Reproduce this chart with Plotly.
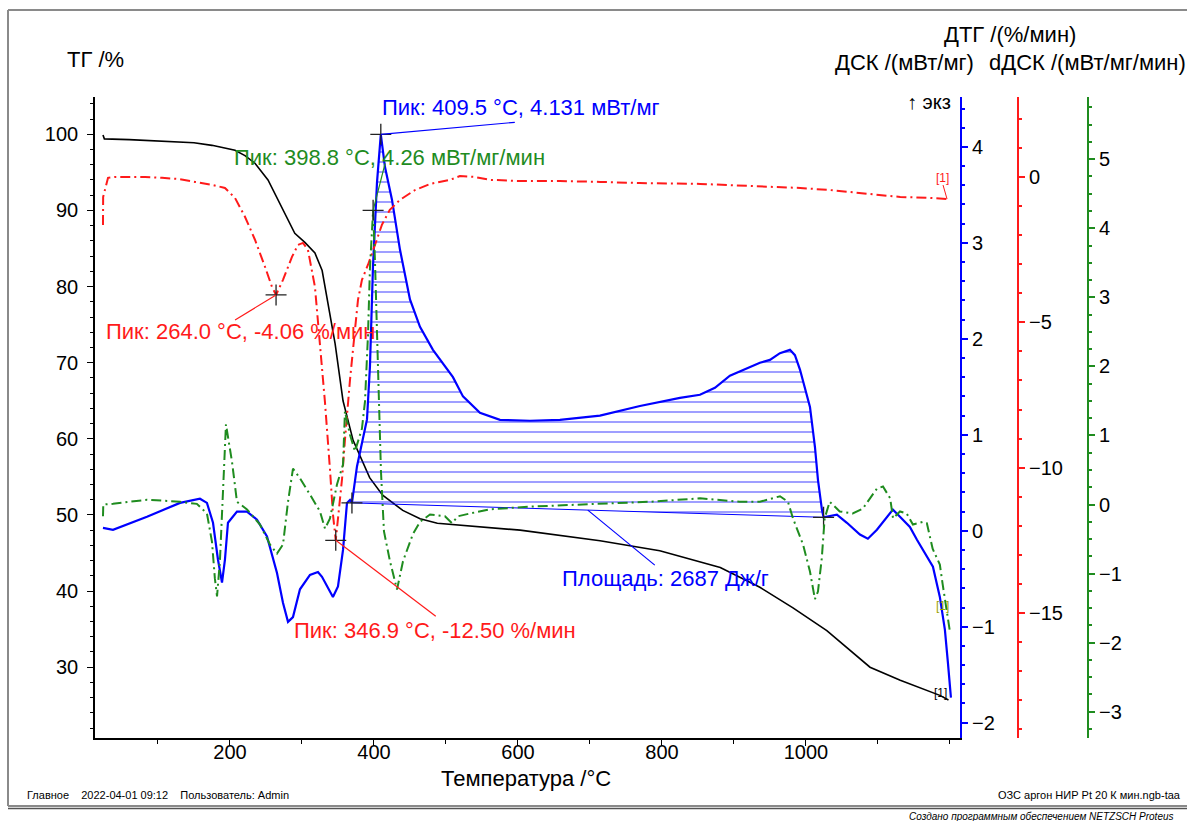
import plotly.graph_objects as go
import numpy as np

# ---------------- data ----------------
tg_T = [23.6, 25.5, 60, 105.6, 150, 175, 207, 220.8, 234.7, 252.8, 272, 290, 304, 318, 328, 336, 346,
        357, 371, 394, 412, 440, 464, 488, 547, 603, 714, 797, 881, 936, 982, 1029, 1089, 1131, 1186, 1198]
tg_val = [99.9, 99.4, 99.3, 99.1, 98.9, 98.55, 97.9, 97.2, 96.2, 94.0, 90.4, 87.0, 85.8, 84.4, 82.1, 77.8, 72.5,
          65.0, 59.8, 54.9, 52.6, 50.6, 49.5, 48.9, 48.4, 48.0, 46.6, 45.3, 43.1, 40.5, 37.8, 34.8, 30.0, 28.3, 26.3, 25.7]

dsc_T = [23.6, 37.5, 84.7, 130.6, 158.3, 168, 176.4, 183.3, 188.9, 193, 197.2, 209.7, 223.6, 237.5, 251.4,
         265.3, 273.6, 280.6, 287.5, 297.2, 311.1, 322.2, 327.8, 334.7, 343, 350, 357, 362.5, 366.7, 369.4,
         376.4, 390.3, 394.4, 398.6, 404.2, 409.5, 415.3, 425, 436.1, 450, 463.9, 481.9, 509.7, 523.6, 547.2,
         575, 616.7, 658.3, 713.9, 769.4, 825, 852.8, 873.6, 894.4, 936.1, 950, 963.9, 977.8, 984.7, 991.7,
         1005.6, 1012.5, 1016.7, 1022.2, 1024.5, 1043, 1056.9, 1075, 1086, 1098.6, 1112.5, 1120.8, 1130.6,
         1144.4, 1154.2, 1176.4, 1186, 1193, 1197.2, 1201.4]
dsc_val = [0.03, 0.01, 0.146, 0.29, 0.333, 0.29, 0.083, -0.30, -0.54, -0.30, 0.083, 0.20, 0.20, 0.115, -0.06,
           -0.44, -0.75, -0.95, -0.90, -0.61, -0.46, -0.43, -0.48, -0.58, -0.69, -0.58, -0.20, 0.29, 0.32, 0.29,
           0.67, 1.16, 1.71, 2.75, 3.63, 4.131, 3.79, 3.45, 2.93, 2.41, 2.125, 1.885, 1.60, 1.40, 1.23,
           1.156, 1.146, 1.156, 1.20, 1.30, 1.385, 1.417, 1.49, 1.615, 1.75, 1.78, 1.85, 1.885, 1.83, 1.68,
           1.29, 0.875, 0.53, 0.22, 0.14, 0.167, 0.083, -0.04, -0.083, 0.01, 0.146, 0.22, 0.146,
           0.04, -0.094, -0.375, -0.69, -1.03, -1.375, -1.74]

dtg_T = [23.6, 23.8, 30.6, 40.3, 58.3, 82, 105.6, 127.8, 151.4, 175, 193, 206.9, 220.8, 234.7, 248.6, 258.3,
         264.0, 273.6, 286.1, 294.4, 301.4, 308.3, 318, 325, 332, 338.9, 343, 346.9, 350, 355.6, 359.7, 366.7,
         373.6, 377.8, 383.3, 391.7, 401.4, 411, 422, 436, 457, 478, 505.6, 519.4, 540, 561, 603, 658, 714,
         769, 853, 936, 992, 1033, 1072, 1096, 1131, 1172, 1196]
dtg_val = [-1.65, -0.69, -0.03, 0.0, 0.0, 0.0, -0.03, -0.07, -0.17, -0.27, -0.38, -0.72, -1.37, -2.16, -3.09, -3.78,
           -4.06, -3.54, -2.75, -2.34, -2.27, -2.51, -3.78, -5.70, -7.77, -10.07, -11.6, -12.50, -11.8, -10.4, -9.04, -6.98,
           -5.26, -4.23, -3.54, -3.02, -2.34, -1.65, -1.13, -0.79, -0.45, -0.24, -0.10, 0.03, 0.0, -0.10, -0.14, -0.14, -0.17,
           -0.21, -0.24, -0.31, -0.38, -0.45, -0.55, -0.62, -0.69, -0.72, -0.76]

ddsc_T = [23.6, 24.0, 37.5, 84.7, 130.6, 154, 168, 175, 179, 182, 186, 190, 194.4, 202.8, 209.7, 223.6, 241.7,
          255.6, 265.3, 273.6, 280.6, 287.5, 297.2, 311.1, 325, 332, 338.9, 348.6, 357, 359.7, 366.7, 373.6,
          377.8, 383.3, 387.5, 391.7, 394.4, 398.8, 401.4, 404.2, 407, 409.7, 413.9, 422.2, 432, 440.3, 454,
          463.9, 477.8, 498.6, 508.3, 516.7, 533.3, 561, 616.7, 714, 783, 853, 908, 936, 964, 975, 982, 996,
          1005.6, 1012.5, 1016.7, 1022, 1026, 1033, 1047, 1065, 1079, 1089, 1098.6, 1107, 1117, 1121, 1130.6,
          1140, 1148.6, 1162.5, 1168, 1176, 1186, 1190, 1196, 1200]
ddsc_val = [-0.17, 0.0, 0.01, 0.07, 0.04, 0.01, -0.13, -0.54, -1.07, -1.33, -0.82, 0.04, 1.16, 0.62, 0.04, -0.07, -0.29,
            -0.58, -0.71, -0.58, 0.04, 0.52, 0.38, 0.145, -0.10, -0.35, -0.20, 0.29, 0.58, 1.35, 1.01, 0.77,
            0.91, 1.10, 1.49, 2.46, 3.42, 4.26, 3.52, 2.50, 1.49, 0.48, -0.39, -0.82, -1.23, -0.82, -0.43,
            -0.25, -0.145, -0.17, -0.27, -0.17, -0.13, -0.07, -0.03, 0.01, 0.04, 0.09, 0.04, 0.04, 0.12, 0.04, -0.20, -0.58,
            -0.97, -1.37, -1.26, -0.78, -0.20, 0.04, -0.10, -0.13, -0.06, 0.09, 0.23, 0.26, 0.09, -0.20, -0.10,
            -0.13, -0.29, -0.25, -0.27, -0.64, -0.87, -1.16, -1.55, -1.84]

# peaks / evaluation points
dsc_peak = (409.5, 4.131)
ddsc_peak = (398.8, 4.26)
dtg_peaks = [(264.0, -4.06), (346.9, -12.50)]
base_T = [369.4, 1024.5]
base_val = [0.29, 0.14]
area_leader_T = 697.0

x_ticks = [200, 400, 600, 800, 1000]
tg_ticks = [30, 40, 50, 60, 70, 80, 90, 100]
dsc_ticks = [-2, -1, 0, 1, 2, 3, 4]
dtg_ticks = [-15, -10, -5, 0]
ddsc_ticks = [-3, -2, -1, 0, 1, 2, 3, 4, 5]

# ---------------- layout geometry ----------------
W, H = 1187, 821
ML, MR, MT, MB = 95, 97, 97, 83
PW = W - ML - MR
PH = H - MT - MB


def px(x):
    return (x - ML) / PW


def py(y):
    return (H - MB - y) / PH


FONT = "Liberation Sans, Arial, sans-serif"
BLUE = "#0000ff"
RED = "#ff1a1a"
GREEN = "#1f8c1f"
DASH = "10px,4px,2px,4px"

fig = go.Figure()

# hatched integration area (DSC)
seg = [(t, v) for t, v in zip(dsc_T, dsc_val) if base_T[0] <= t <= base_T[1]]
poly_x = [base_T[0]] + [s[0] for s in seg] + [base_T[1]]
poly_y = [base_val[0]] + [s[1] for s in seg] + [base_val[1]]
fig.add_trace(go.Scatter(x=poly_x, y=poly_y, yaxis="y2", mode="none", fill="toself",
                         fillcolor="rgba(0,0,0,0)",
                         fillpattern=dict(shape="-", fgcolor=BLUE, bgcolor="rgba(0,0,0,0)",
                                          size=10, solidity=0.15),
                         hoverinfo="skip"))
fig.add_trace(go.Scatter(x=base_T, y=base_val, yaxis="y2", mode="lines",
                         line=dict(color=BLUE, width=1)))

# TG
fig.add_trace(go.Scatter(x=tg_T, y=tg_val, yaxis="y", mode="lines",
                         line=dict(color="black", width=1.6)))
# DTG
fig.add_trace(go.Scatter(x=dtg_T, y=dtg_val, yaxis="y3", mode="lines",
                         line=dict(color=RED, width=2, dash=DASH)))
# dDSC
fig.add_trace(go.Scatter(x=ddsc_T, y=ddsc_val, yaxis="y4", mode="lines",
                         line=dict(color=GREEN, width=2, dash=DASH)))
# DSC
fig.add_trace(go.Scatter(x=dsc_T, y=dsc_val, yaxis="y2", mode="lines",
                         line=dict(color=BLUE, width=2.2)))

# cross markers
mk = dict(symbol="cross-thin", size=15, line=dict(color="#222222", width=1.3))
fig.add_trace(go.Scatter(x=[dsc_peak[0]] + base_T, y=[dsc_peak[1]] + base_val, yaxis="y2",
                         mode="markers", marker=mk))
fig.add_trace(go.Scatter(x=[ddsc_peak[0]], y=[ddsc_peak[1]], yaxis="y4", mode="markers", marker=mk))
fig.add_trace(go.Scatter(x=[p[0] for p in dtg_peaks], y=[p[1] for p in dtg_peaks], yaxis="y3",
                         mode="markers", marker=mk))

# leader lines (anchored at data points, pixel offsets)
area_base = float(np.interp(area_leader_T, base_T, base_val))
leaders = [
    ("y2", dsc_peak, 134, 12, BLUE, 1.2),
    ("y4", ddsc_peak, 12, 47, GREEN, 1.2),
    ("y3", dtg_peaks[0], -41, -25, RED, 1.2),
    ("y3", dtg_peaks[1], 100, -76, RED, 1.2),
    ("y2", (area_leader_T, area_base), 67, -55, BLUE, 1.2),
    ("y3", (dtg_T[-1], dtg_val[-1]), -4, 14, RED, 1),
]
shapes = []
for yref, (xa, ya), dx, dy, col, lw in leaders:
    shapes.append(dict(type="line", xref="x", yref=yref, xsizemode="pixel", ysizemode="pixel",
                       xanchor=xa, yanchor=ya, x0=0, y0=0, x1=dx, y1=dy,
                       line=dict(color=col, width=lw)))

# outer frame (open on the right, as cropped in the original)
FR = dict(color="#8a8a8a", width=2)
for (x0, y0, x1, y1) in [(8, 10, 1230, 10), (8, 10, 8, 806), (8, 806, 1230, 806)]:
    shapes.append(dict(type="line", xref="paper", yref="paper", x0=px(x0), y0=py(y0), x1=px(x1), y1=py(y1),
                       line=FR, layer="below"))
shapes.append(dict(type="line", xref="paper", yref="paper", x0=px(8), x1=px(1230), y0=py(808.5), y1=py(808.5),
                   line=dict(color="#555555", width=1.5)))

FS = 22
ann = []


def text(x, y, s, color="black", size=FS, xanchor="left", italic=False):
    ann.append(dict(x=px(x), y=py(y), xref="paper", yref="paper", text=("<i>%s</i>" % s) if italic else s,
                    showarrow=False, xanchor=xanchor, yanchor="middle",
                    font=dict(family=FONT, size=size, color=color)))


text(95, 60, "ТГ /%", xanchor="center")
text(1010, 35, "ДТГ /(%/мин)", xanchor="center")
text(904, 62, "ДСК /(мВт/мг)", xanchor="center")
text(1087, 62, "dДСК /(мВт/мг/мин)", xanchor="center")
text(526, 778, "Температура /°C", xanchor="center")
text(905, 102, "↑ экз", size=20)

text(380, 108, "Пик: 409.5 °C, 4.131 мВт/мг", BLUE)
text(232, 157, "Пик: 398.8 °C, 4.26 мВт/мг/мин", GREEN)
text(104, 331, "Пик: 264.0 °C, -4.06 %/мин", RED)
text(292, 630, "Пик: 346.9 °C, -12.50 %/мин", RED)
text(560, 578, "Площадь: 2687 Дж/г", BLUE)

text(942, 178, "[1]", RED, size=12, xanchor="center")
text(942, 606, "[1]", "#9aa000", size=12, xanchor="center")
text(940, 693, "[1]", "black", size=12, xanchor="center")

text(25, 795, "Главное&nbsp;&nbsp;&nbsp;&nbsp;2022-04-01 09:12&nbsp;&nbsp;&nbsp;&nbsp;Пользователь: Admin", size=11)
text(1183, 795, "ОЗС аргон НИР Pt 20 К мин.ngb-taa", size=11, xanchor="right")
text(907, 816, "Создано программным обеспечением NETZSCH Proteus", size=10, italic=True)

tickfont = dict(family=FONT, size=20, color="black")

fig.update_layout(
    width=W, height=H,
    margin=dict(l=ML, r=MR, t=MT, b=MB, autoexpand=False),
    paper_bgcolor="white", plot_bgcolor="white",
    showlegend=False,
    font=dict(family=FONT, color="black"),
    shapes=shapes, annotations=ann,
    xaxis=dict(domain=[0, (960 - ML) / PW], range=[12.5, 1214], tickvals=x_ticks,
               ticks="outside", ticklen=6, tickwidth=1.2, tickcolor="black",
               minor=dict(tick0=0, dtick=100, ticks="outside", ticklen=4, tickcolor="black"),
               showline=True, linecolor="black", linewidth=1.6, showgrid=False, zeroline=False,
               tickfont=tickfont, automargin=False, ticklabelstandoff=-11),
    yaxis=dict(range=[20.7, 104.9], tickvals=tg_ticks, ticks="outside", ticklen=6, tickwidth=1.2,
               tickcolor="black",
               minor=dict(tick0=0, dtick=2, ticks="outside", ticklen=3, tickcolor="black"),
               showline=True, linecolor="black", linewidth=1.6, showgrid=False, zeroline=False,
               tickfont=tickfont, automargin=False, ticklabelstandoff=5),
    yaxis2=dict(overlaying="y", side="right", anchor="x", range=[-2.16, 4.52], tickvals=dsc_ticks,
                ticks="outside", ticklen=6, tickwidth=1.5, tickcolor=BLUE,
                minor=dict(tick0=0, dtick=0.2, ticks="outside", ticklen=3, tickcolor=BLUE),
                showline=True, linecolor=BLUE, linewidth=2, showgrid=False, zeroline=False,
                tickfont=tickfont, automargin=False),
    yaxis3=dict(overlaying="y", side="right", anchor="free", position=(1018 - ML) / PW,
                range=[-19.3, 2.75], tickvals=dtg_ticks,
                ticks="outside", ticklen=6, tickwidth=1.5, tickcolor=RED,
                minor=dict(tick0=0, dtick=1, ticks="outside", ticklen=3, tickcolor=RED),
                showline=True, linecolor=RED, linewidth=2, showgrid=False, zeroline=False,
                tickfont=tickfont, automargin=False, autoshift=False),
    yaxis4=dict(overlaying="y", side="right", anchor="free", position=(1088 - ML) / PW,
                range=[-3.38, 5.9], tickvals=ddsc_ticks,
                ticks="outside", ticklen=6, tickwidth=1.5, tickcolor=GREEN,
                minor=dict(tick0=0, dtick=0.25, ticks="outside", ticklen=3, tickcolor=GREEN),
                showline=True, linecolor=GREEN, linewidth=2, showgrid=False, zeroline=False,
                tickfont=tickfont, automargin=False, autoshift=False),
)

fig.write_html("out.html", config={"displayModeBar": False},
               post_script="document.body.style.margin='0px';document.body.style.overflow='hidden';")
